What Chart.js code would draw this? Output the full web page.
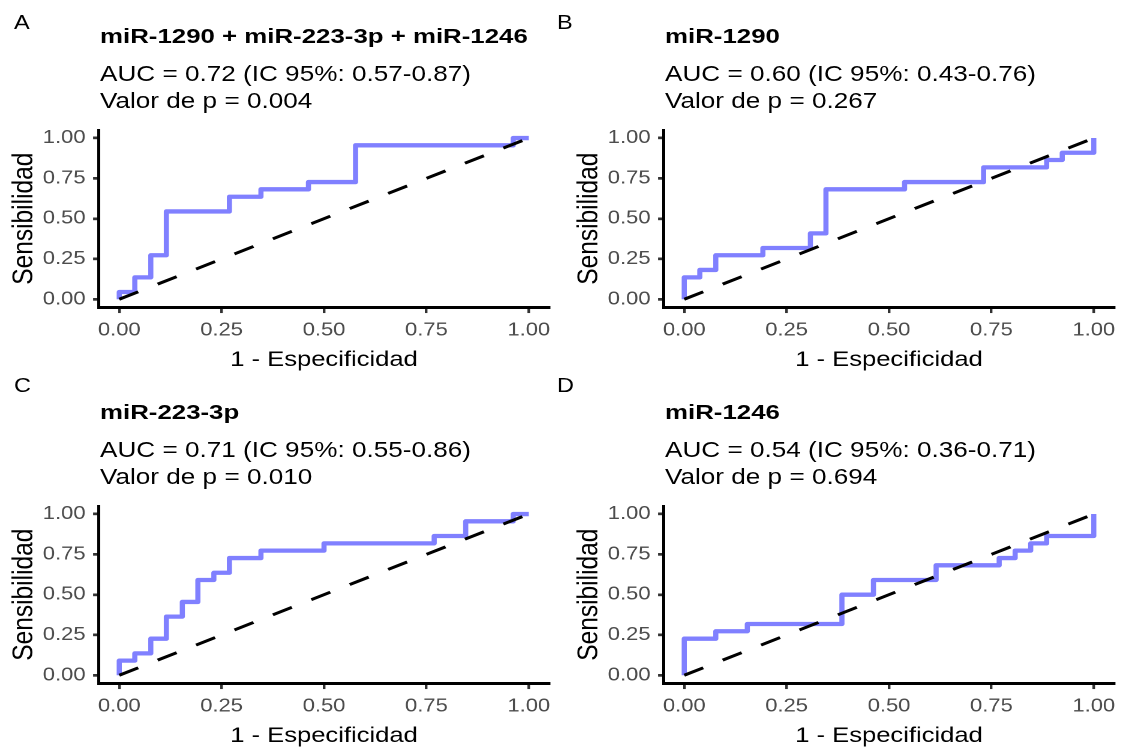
<!DOCTYPE html>
<html><head><meta charset="utf-8">
<script src="https://cdn.jsdelivr.net/npm/chart.js@4.4.1/dist/chart.umd.min.js"></script>
<style>
html,body{margin:0;padding:0;background:#fff;}
#root{position:relative;width:1122px;height:749px;overflow:hidden;background:#fff;font-family:'Liberation Sans',Arial,Helvetica,sans-serif;}
.cv{position:absolute;width:468px;height:373px;transform:scaleX(1.2);transform-origin:0 0;}
.txt{position:absolute;white-space:nowrap;line-height:1;transform-origin:0 0;color:#000;}
.lab{font-size:21px;transform:scaleX(1.12);}
.ttl{font-size:20.5px;font-weight:bold;transform:scaleX(1.26);}
.sub{font-size:21.5px;transform:scaleX(1.215);}
</style></head><body><div id="root"></div>
<script>
// ---- data ----
const panelLetters = ['A', 'B', 'C', 'D'];
const panelTitles = ['miR-1290 + miR-223-3p + miR-1246', 'miR-1290', 'miR-223-3p', 'miR-1246'];
const aucLines = ['AUC = 0.72 (IC 95%: 0.57-0.87)', 'AUC = 0.60 (IC 95%: 0.43-0.76)', 'AUC = 0.71 (IC 95%: 0.55-0.86)', 'AUC = 0.54 (IC 95%: 0.36-0.71)'];
const pLines = ['Valor de p = 0.004', 'Valor de p = 0.267', 'Valor de p = 0.010', 'Valor de p = 0.694'];
const tickValues = [0, 0.25, 0.5, 0.75, 1];
const tickLabels = ['0.00', '0.25', '0.50', '0.75', '1.00'];
const xTitle = '1 - Especificidad';
const yTitle = 'Sensibilidad';
const diagX = [0, 1];
const diagY = [0, 1];

// ROC curve A: miR-1290 + miR-223-3p + miR-1246
const fprA = [0, 0, 0.038, 0.038, 0.077, 0.077, 0.115, 0.115, 0.269, 0.269, 0.346, 0.346, 0.462, 0.462, 0.577, 0.577, 0.962, 0.962, 1];
const tprA = [0, 0.045, 0.045, 0.136, 0.136, 0.273, 0.273, 0.545, 0.545, 0.636, 0.636, 0.682, 0.682, 0.727, 0.727, 0.955, 0.955, 1, 1];
// ROC curve B: miR-1290
const fprB = [0, 0, 0.038, 0.038, 0.077, 0.077, 0.192, 0.192, 0.308, 0.308, 0.346, 0.346, 0.538, 0.538, 0.731, 0.731, 0.885, 0.885, 0.923, 0.923, 1, 1];
const tprB = [0, 0.136, 0.136, 0.182, 0.182, 0.273, 0.273, 0.318, 0.318, 0.409, 0.409, 0.682, 0.682, 0.727, 0.727, 0.818, 0.818, 0.864, 0.864, 0.909, 0.909, 1];
// ROC curve C: miR-223-3p
const fprC = [0, 0, 0.038, 0.038, 0.077, 0.077, 0.115, 0.115, 0.154, 0.154, 0.192, 0.192, 0.231, 0.231, 0.269, 0.269, 0.346, 0.346, 0.5, 0.5, 0.769, 0.769, 0.846, 0.846, 0.962, 0.962, 1];
const tprC = [0, 0.091, 0.091, 0.136, 0.136, 0.227, 0.227, 0.364, 0.364, 0.455, 0.455, 0.591, 0.591, 0.636, 0.636, 0.727, 0.727, 0.773, 0.773, 0.818, 0.818, 0.864, 0.864, 0.955, 0.955, 1, 1];
// ROC curve D: miR-1246
const fprD = [0, 0, 0.077, 0.077, 0.154, 0.154, 0.385, 0.385, 0.462, 0.462, 0.615, 0.615, 0.769, 0.769, 0.808, 0.808, 0.846, 0.846, 0.885, 0.885, 1, 1];
const tprD = [0, 0.227, 0.227, 0.273, 0.273, 0.318, 0.318, 0.5, 0.5, 0.591, 0.591, 0.682, 0.682, 0.727, 0.727, 0.773, 0.773, 0.818, 0.818, 0.864, 0.864, 1];

const curves = [[fprA, tprA], [fprB, tprB], [fprC, tprC], [fprD, tprD]];

// ---- layout ----
const panelPos = [[0, 0], [565, 0], [0, 376], [565, 376]];
const letterPos = [[14, 10.5], [557, 10.5], [14, 373.5], [557, 373.5]];

Chart.defaults.font.family = "'Liberation Sans', Arial, Helvetica, sans-serif";

const root = document.getElementById('root');

function addText(cls, text, left, top) {
  const d = document.createElement('div');
  d.className = 'txt ' + cls;
  d.textContent = text;
  d.style.left = left + 'px';
  d.style.top = top + 'px';
  root.appendChild(d);
}

function tickLabel(v) {
  const i = tickValues.findIndex(t => Math.abs(t - v) < 1e-9);
  return i >= 0 ? tickLabels[i] : '';
}

function makeChart(canvas, fpr, tpr) {
  return new Chart(canvas, {
    type: 'scatter',
    data: {
      datasets: [
        {
          data: diagX.map((x, i) => ({x: x, y: diagY[i]})),
          showLine: true, borderColor: '#000000', borderWidth: 3,
          borderDash: [17.5, 17.9], borderCapStyle: 'butt', pointRadius: 0
        },
        {
          data: fpr.map((x, i) => ({x: x, y: tpr[i]})),
          showLine: true, borderColor: '#8080ff', borderWidth: 4.3,
          borderJoinStyle: 'round', borderCapStyle: 'butt', pointRadius: 0
        }
      ]
    },
    options: {
      responsive: false, animation: false, devicePixelRatio: 2,
      layout: {padding: {left: 0, top: 130, right: 10.3, bottom: 0}},
      plugins: {legend: {display: false}, tooltip: {enabled: false}, title: {display: false}},
      scales: {
        x: {
          type: 'linear', min: -0.05, max: 1.05,
          afterBuildTicks: s => { s.ticks = tickValues.map(v => ({value: v})); },
          afterFit: s => { s.height = 65.65; },
          ticks: {callback: v => tickLabel(v), color: '#4d4d4d', font: {size: 18.3, lineHeight: 1.2}, padding: 6.6, maxRotation: 0, autoSkip: false},
          grid: {drawOnChartArea: false, drawTicks: true, tickLength: 5.7, color: '#333333', lineWidth: 2.2},
          border: {display: true, color: '#000000', width: 3},
          title: {display: true, text: xTitle, color: '#000000', font: {size: 21.3, lineHeight: 1.2}, padding: {top: 0, bottom: 0}}
        },
        y: {
          type: 'linear', min: -0.05, max: 1.05,
          afterBuildTicks: s => { s.ticks = tickValues.map(v => ({value: v})); },
          afterFit: s => { s.width = 82.3; },
          ticks: {callback: v => tickLabel(v), color: '#4d4d4d', font: {size: 18.3, lineHeight: 1.2}, padding: 6.3, autoSkip: false},
          grid: {drawOnChartArea: false, drawTicks: true, tickLength: 4.75, color: '#333333', lineWidth: 2.7},
          border: {display: true, color: '#000000', width: 2.5},
          title: {display: true, text: yTitle, color: '#000000', font: {size: 24.5, lineHeight: 1.2}, padding: {top: 5.5, bottom: 0}}
        }
      }
    }
  });
}

for (let p = 0; p < 4; p++) {
  const [ox, oy] = panelPos[p];
  const wrap = document.createElement('div');
  wrap.className = 'cv';
  wrap.style.left = ox + 'px';
  wrap.style.top = oy + 'px';
  const cv = document.createElement('canvas');
  cv.width = 468; cv.height = 373;
  wrap.appendChild(cv);
  root.appendChild(wrap);
  makeChart(cv, curves[p][0], curves[p][1]);

  addText('lab', panelLetters[p], letterPos[p][0], letterPos[p][1]);
  addText('ttl', panelTitles[p], ox + 100, oy + 25.5);
  addText('sub', aucLines[p], ox + 100, oy + 63.5);
  addText('sub', pLines[p], ox + 100, oy + 90.5);
}
</script>
</body></html>
